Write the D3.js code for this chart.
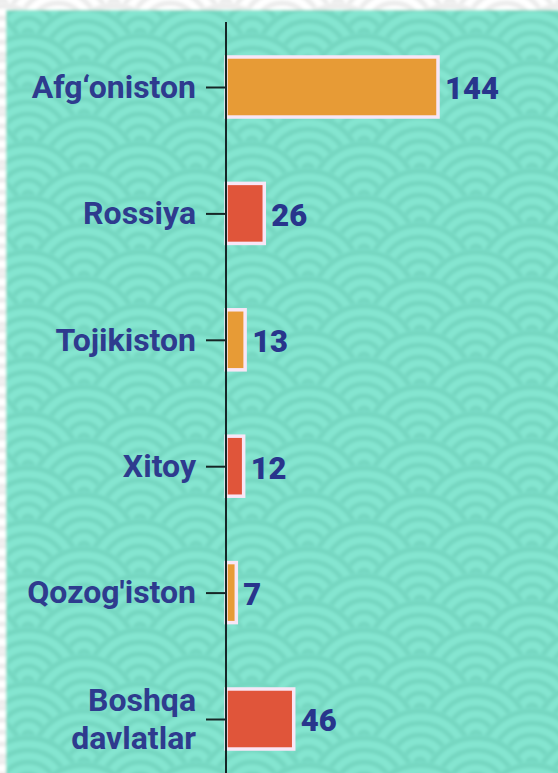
<!DOCTYPE html>
<html>
<head>
<meta charset="utf-8">
<script src="https://cdn.jsdelivr.net/npm/d3@7"></script>
<style>
  html, body { margin: 0; padding: 0; background: #fff; }
  #bar { width: 558px; height: 773px; }
  svg { display: block; }
</style>
</head>
<body>
<div id="bar"></div>
<script>
const countries = ["Afg‘oniston", "Rossiya", "Tojikiston", "Xitoy", "Qozog'iston", "Boshqa\ndavlatlar"];
const counts = [144, 26, 13, 12, 7, 46];
const barColors = ["#e79b36", "#e0553a"];

function seigaiha(g, x0, y0, w, h, bg, ink, id) {
  const R = 56, dy = 27, ox = 22, oy = 25;
  g.append("clipPath").attr("id", id)
    .append("rect").attr("x", x0).attr("y", y0).attr("width", w).attr("height", h);
  const p = g.append("g").attr("clip-path", `url(#${id})`);
  p.append("rect").attr("x", x0).attr("y", y0).attr("width", w).attr("height", h).attr("fill", bg);
  d3.range(-2, Math.ceil(h / dy) + 4).forEach(j => {
    const cy = y0 + oy + j * dy;
    const shift = (j % 2 === 0) ? 0 : R;
    d3.range(-2, Math.ceil(w / (2 * R)) + 3).forEach(i => {
      const cx = x0 + ox + shift + i * 2 * R - 2 * R;
      p.append("circle").attr("cx", cx).attr("cy", cy).attr("r", R).attr("fill", bg);
      [53, 41, 29, 17, 5].forEach(r => {
        p.append("circle").attr("cx", cx).attr("cy", cy).attr("r", r)
          .attr("fill", "none").attr("stroke", ink).attr("stroke-width", 5);
      });
    });
  });
}

function drawBar() {
  const container = d3.select("#bar");
  container.selectAll("*").remove();

  const width = 558;
  const height = 773;

  const svg = container.append("svg")
    .attr("width", width)
    .attr("height", height);

  svg.append("defs").append("filter").attr("id", "soft")
    .append("feGaussianBlur").attr("stdDeviation", 1.6);

  const bg = svg.append("g").attr("filter", "url(#soft)");
  seigaiha(bg, -20, -20, width + 40, height + 40, "#ffffff", "#ececec", "clipOuter");
  seigaiha(bg, 6, 10, width + 20, height + 20, "#84e5d0", "#76d7c1", "clipInner");

  const data = countries.map((c, i) => ({ name: c, value: counts[i] }));

  const y = d3.scaleBand()
    .domain(countries)
    .range([23.8, 782.2])
    .paddingInner(0.525)
    .paddingOuter(0.2625);

  const x = d3.scaleLinear()
    .domain([0, 144])
    .range([226, 438]);

  svg.append("g")
    .selectAll("rect")
    .data(data)
    .join("rect")
    .attr("x", x(0))
    .attr("y", d => y(d.name))
    .attr("width", d => x(d.value) - x(0))
    .attr("height", y.bandwidth())
    .attr("fill", (d, i) => barColors[i % 2])
    .attr("stroke", "#f8e6f6")
    .attr("stroke-width", 3.5);

  svg.append("g")
    .selectAll("text")
    .data(data)
    .join("text")
    .attr("x", d => x(d.value) + 7)
    .attr("y", d => y(d.name) + y.bandwidth() / 2)
    .attr("dy", "0.4em")
    .attr("font-family", "Roboto")
    .attr("font-weight", 900)
    .attr("font-size", 31)
    .attr("fill", "#28358c")
    .text(d => d.value);

  const yPoint = d3.scalePoint()
    .domain(countries)
    .range([y(countries[0]) + y.bandwidth() / 2, y(countries[5]) + y.bandwidth() / 2]);

  const axis = svg.append("g")
    .attr("transform", `translate(${x(0)},0)`)
    .call(d3.axisLeft(yPoint).tickSize(20).tickPadding(10).tickSizeOuter(0));

  axis.select(".domain").remove();
  axis.append("line")
    .attr("x1", 0).attr("x2", 0)
    .attr("y1", 22).attr("y2", height)
    .attr("stroke", "#162626")
    .attr("stroke-width", 2);
  axis.selectAll(".tick line").attr("stroke", "#162626").attr("stroke-width", 2);

  axis.selectAll(".tick text")
    .attr("font-family", "Roboto")
    .attr("font-weight", 700)
    .attr("font-size", 32)
    .attr("fill", "#2e3b8e")
    .each(function (d) {
      const lines = d.split("\n");
      if (lines.length > 1) {
        const t = d3.select(this).text(null).attr("dy", null);
        lines.forEach((l, k) => {
          t.append("tspan")
            .attr("x", -30)
            .attr("dy", k === 0 ? "-0.28em" : "1.19em")
            .text(l);
        });
      }
    });
}

drawBar();
</script>
</body>
</html>
